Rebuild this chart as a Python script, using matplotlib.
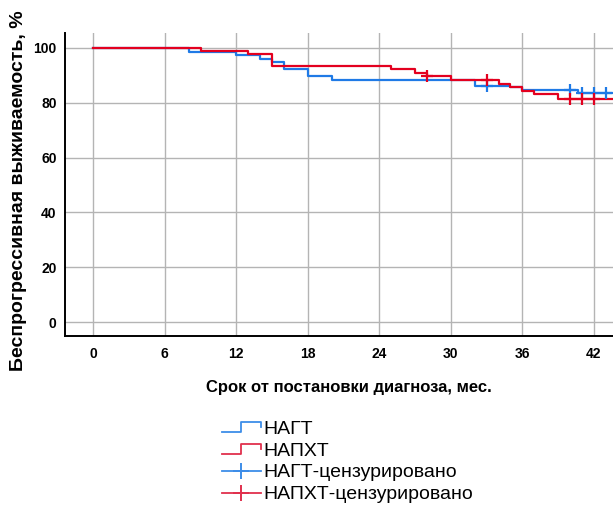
import matplotlib
matplotlib.use("Agg")
import matplotlib.pyplot as plt
from matplotlib.lines import Line2D
from matplotlib.legend_handler import HandlerBase

plt.rcParams['font.family'] = ['Liberation Sans', 'DejaVu Sans']

# Кривые Каплана-Мейера (месяцы, %)
nagt_t = [0, 8, 12, 14, 15, 16, 18, 20, 32, 35, 36, 40.7, 44]
nagt_s = [100, 98.6, 97.4, 96.0, 94.7, 92.3, 89.8, 88.3, 86.0, 85.6, 84.7, 83.4, 83.4]
napxt_t = [0, 9, 13, 15, 25, 27, 28, 30, 34, 35, 36, 37, 39, 44]
napxt_s = [100, 98.7, 97.6, 93.4, 92.1, 90.8, 89.6, 88.2, 86.9, 85.8, 84.4, 83.0, 81.5, 81.5]

# цензурированные наблюдения
nagt_cens_t = [33, 40, 41, 42, 43]
nagt_cens_s = [86.0, 84.7, 83.4, 83.4, 83.4]
napxt_cens_t = [28, 33, 40, 41, 42]
napxt_cens_s = [89.6, 88.2, 81.5, 81.5, 81.5]

x_ticks = [0, 6, 12, 18, 24, 30, 36, 42]
y_ticks = [0, 20, 40, 60, 80, 100]

blue = '#1f7ae6'
red = '#e3001f'


class StepHandler(HandlerBase):
    # значок легенды в виде ступеньки
    def create_artists(self, legend, orig_handle, xdescent, ydescent,
                       width, height, fontsize, trans):
        x0 = -xdescent
        y0 = -ydescent
        xs = [x0, x0 + 0.5 * width, x0 + 0.5 * width, x0 + width, x0 + width]
        ys = [y0 + 0.15 * height, y0 + 0.15 * height, y0 + 0.85 * height,
              y0 + 0.85 * height, y0 + 0.5 * height]
        line = Line2D(xs, ys, color=orig_handle.get_color(), lw=1.3,
                      transform=trans)
        return [line]


fig = plt.figure(figsize=(6.13, 5.11), dpi=100)
ax = fig.add_axes([0.106, 0.342, 0.894, 0.594])

ax.step(nagt_t, nagt_s, where='post', color=blue, lw=1.6, zorder=3)
ax.step(napxt_t, napxt_s, where='post', color=red, lw=1.6, zorder=4)
ax.plot(nagt_cens_t, nagt_cens_s, ls='none', marker='+', ms=9, mew=1.6,
        color=blue, zorder=5)
ax.plot(napxt_cens_t, napxt_cens_s, ls='none', marker='+', ms=9, mew=1.6,
        color=red, zorder=6)

ax.set_xlim(-2.37, 43.6)
ax.set_ylim(-5.1, 105.5)
ax.set_xticks(x_ticks)
ax.set_yticks(y_ticks)
ax.tick_params(length=0, labelsize=10)
ax.tick_params(axis='x', pad=8)
ax.tick_params(axis='y', pad=6)
for lab in ax.get_xticklabels() + ax.get_yticklabels():
    lab.set_fontweight('bold')

ax.grid(True, color='#b4b4b4', lw=1.0)
ax.set_axisbelow(True)
for side in ['top', 'right']:
    ax.spines[side].set_visible(False)
for side in ['left', 'bottom']:
    ax.spines[side].set_linewidth(1.4)

ax.set_xlabel('Срок от постановки диагноза, мес.', fontsize=12,
              fontweight='bold', va='top')
ax.xaxis.set_label_coords(0.518, -0.145)
fig.text(19 / 613, 1 - 191 / 511, 'Беспрогрессивная выживаемость, %',
         rotation=90, ha='center', va='center', fontsize=14, fontweight='bold')

h1 = Line2D([], [], color='#3d8de8')
h2 = Line2D([], [], color='#e0304d')
h3 = Line2D([], [], color='#3d8de8', marker='+', ms=12, mew=1.4, lw=1.3)
h4 = Line2D([], [], color='#e0304d', marker='+', ms=12, mew=1.4, lw=1.3)
fig.legend([h1, h2, h3, h4],
           ['НАГТ', 'НАПХТ', 'НАГТ-цензурировано', 'НАПХТ-цензурировано'],
           handler_map={h1: StepHandler(), h2: StepHandler()},
           numpoints=1, loc='upper left', bbox_to_anchor=(0.362, 0.178),
           frameon=False, fontsize=14, handlelength=2.0, handletextpad=0.15,
           labelspacing=0.22, borderpad=0, borderaxespad=0)

fig.savefig('out.png', dpi=100, facecolor='white')
